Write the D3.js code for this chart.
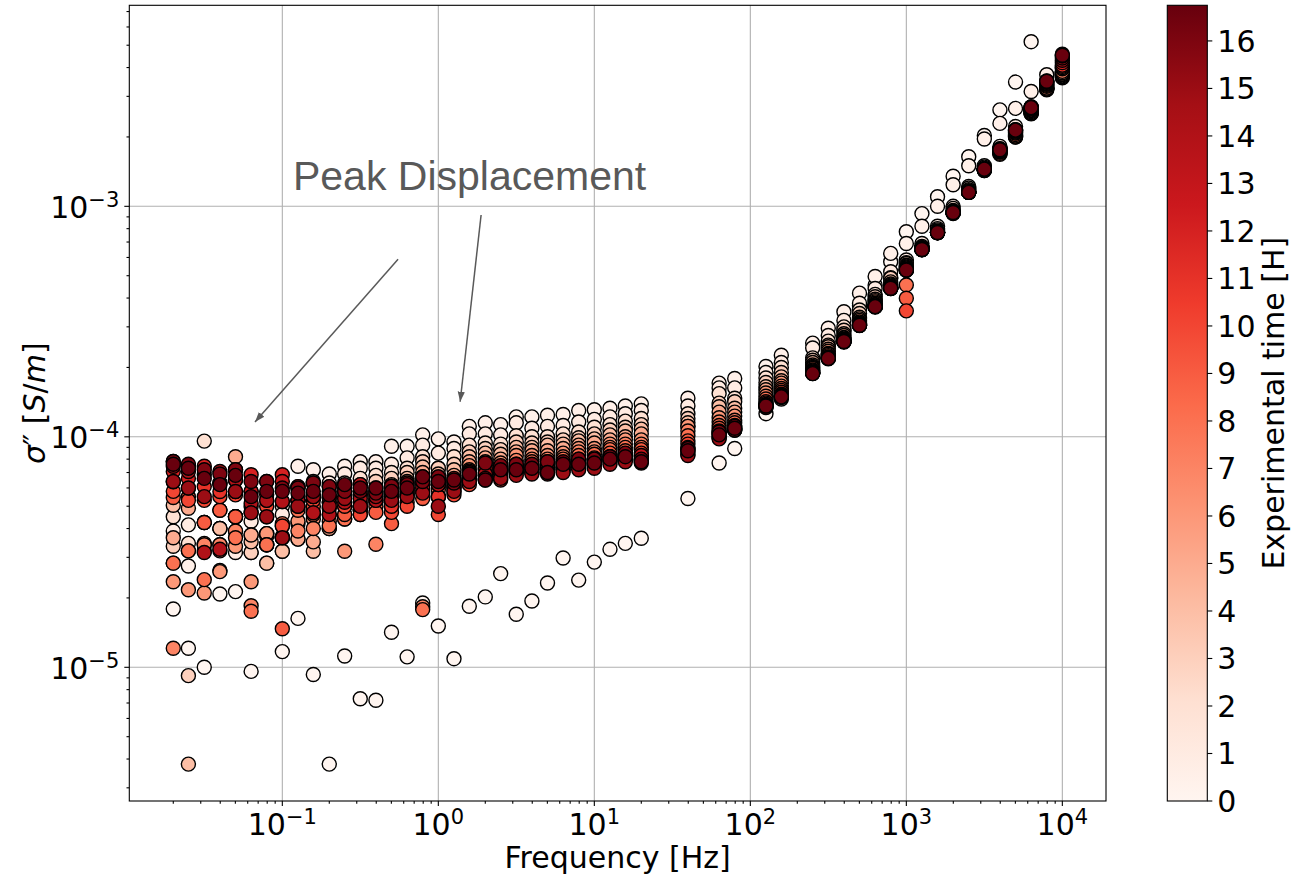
<!DOCTYPE html>
<html>
<head>
<meta charset="utf-8">
<script src="https://cdn.jsdelivr.net/npm/d3@7"></script>
<style>
  body { margin: 0; background: #fff; }
  text { font-family: "DejaVu Sans", sans-serif; }
</style>
</head>
<body>
<div id="chart"></div>
<script>
// frequencies of the sweep [Hz]
const freqs = [0.02, 0.025, 0.0316, 0.0398, 0.0501, 0.0631, 0.0794, 0.1, 0.126, 0.158, 0.2, 0.251, 0.316, 0.398, 0.501, 0.631, 0.794,
  1, 1.26, 1.58, 2, 2.51, 3.16, 3.98, 5.01, 6.31, 7.94, 10, 12.6, 15.8, 20,
  39.8, 63.1, 79.4,
  126, 158, 251, 316, 398, 501, 631, 794, 1000, 1259, 1585, 1995, 2512, 3162, 3981, 5012, 6310, 7943, 10000];

// experimental time of each sweep [H]
const times = [0, 0.5, 1, 2, 3, 4, 5, 6, 7, 8, 9, 10, 11, 12, 13, 14, 15, 16, 16.7];

// sigma'' per sweep, in units of 1e-5 S/m (one value per frequency)
const UNIT = 1e-5;
const s00 = [1.79, 1.21, 1.00, 2.08, 2.13, 0.96, 3.70, 1.17, 1.63, 0.93, 0.38, 1.12, 0.73, 0.72, 1.42, 1.11, 1.90,
  1.51, 1.09, 1.84, 2.02, 2.55, 1.70, 1.94, 2.32, 2.98, 2.39, 2.86, 3.25, 3.45, 3.63,
  5.4, 7.7, 8.9,
  12.6, 14.6, 19.4, 22.5, 29.0, 37.0, 45.5, 57.5, 77.6, 93, 110, 135, 164, 203, 262, 346, 518, 325, 361];
const s05 = [2.83, 2.75, 4.25, 4.00, 4.50, 3.15, 3.80, 5.00, 7.45, 7.20, 6.90, 7.45, 7.80, 7.80, 9.10, 9.10, 10.2,
  9.80, 9.50, 11.1, 11.5, 11.3, 12.2, 12.2, 12.4, 12.5, 13.0, 13.1, 13.3, 13.6, 13.9,
  14.7, 17.1, 17.9,
  20.2, 22.6, 25.5, 29.6, 34.9, 42.0, 49.6, 62.5, 69, 82, 100, 124, 150, 196, 229, 266, 315, 372, 380];
const s01 = [3.90, 4.15, 3.40, 4.00, 3.15, 4.30, 3.40, 4.60, 6.00, 6.40, 6.30, 6.90, 7.30, 7.30, 7.60, 8.10, 9.20,
  8.50, 8.90, 10.3, 10.3, 10.2, 11.5, 10.9, 11.1, 11.2, 11.6, 11.9, 12.2, 12.6, 13.0,
  13.6, 16.3, 16.3,
  19.0, 21.0, 24.3, 27.5, 32.0, 38.0, 44.0, 52.0, 58.5, 69, 82, 100, 122, 150, 182, 222, 262, 330, 372];
const s02 = [4.50, 3.45, 9.58, 4.80, 4.50, 3.75, 2.83, 3.19, 4.20, 5.50, 5.80, 6.30, 6.60, 6.80, 7.00, 7.30, 8.20,
  7.30, 8.20, 9.20, 9.40, 9.30, 10.1, 10.0, 10.0, 10.3, 10.5, 11.0, 11.3, 11.7, 12.0,
  12.6, 15.4, 14.7,
  18.0, 20.0, 22.0, 26.0, 30.0, 35.5, 41.5, 49.0, 57.0, 67, 80, 98, 120, 148, 178, 210, 258, 325, 365];
const s03 = [3.35, 0.92, 4.25, 2.63, 3.90, 3.15, 3.80, 3.65, 5.30, 4.70, 5.20, 5.80, 6.20, 6.40, 6.60, 7.00, 7.80,
  7.30, 7.60, 8.60, 8.90, 8.80, 9.50, 9.40, 9.50, 9.70, 9.90, 10.3, 10.7, 11.0, 11.3,
  12.0, 14.0, 14.2,
  17.2, 19.0, 21.5, 25.0, 29.0, 34.3, 40.5, 48.7, 56.5, 66, 79, 96, 118, 146, 176, 206, 255, 320, 368];
const s04 = [5.05, 0.38, 3.45, 4.00, 4.50, 3.50, 2.83, 3.19, 3.60, 3.19, 4.00, 5.00, 5.60, 5.80, 6.20, 6.60, 7.40,
  6.90, 7.20, 8.20, 8.50, 8.40, 9.00, 9.00, 9.20, 9.30, 9.60, 9.80, 10.2, 10.6, 10.8,
  11.5, 13.5, 13.3,
  16.5, 18.2, 21.0, 24.6, 28.0, 33.0, 39.5, 47.0, 55.5, 66, 78, 95, 117, 145, 172, 203, 253, 323, 372];
const s05h = [3.65, 4.90, 3.20, 3.40, 8.20, 3.75, 3.40, 3.70, 3.60, 3.50, 4.00, 4.60, 5.00, 5.40, 5.80, 6.40, 7.00,
  6.50, 6.80, 7.80, 8.10, 8.00, 8.60, 8.70, 8.70, 8.90, 9.20, 9.40, 9.70, 10.0, 10.3,
  11.1, 12.8, 12.8,
  16.0, 17.5, 20.5, 24.0, 27.5, 32.5, 39.0, 46.0, 55.0, 66, 78, 95, 116, 144, 170, 202, 252, 325, 375];
const s06 = [2.35, 2.17, 2.10, 2.60, 3.35, 2.35, 3.80, 4.10, 4.30, 4.40, 4.60, 3.19, 4.80, 5.20, 5.50, 6.00, 6.70,
  6.20, 6.50, 7.50, 7.80, 7.70, 8.30, 8.30, 8.30, 8.50, 8.90, 8.90, 9.30, 9.70, 9.70,
  11.1, 12.1, 12.3,
  15.5, 17.1, 20.2, 23.5, 27.0, 32.0, 38.5, 45.5, 54.5, 66, 77, 94, 115, 143, 168, 200, 253, 323, 380];
const s07 = [1.21, 3.20, 3.40, 3.40, 3.90, 1.85, 3.40, 3.65, 3.90, 4.00, 4.30, 4.40, 4.60, 3.42, 5.20, 5.70, 1.83,
  5.90, 6.20, 7.20, 7.50, 7.40, 7.90, 8.00, 8.00, 8.20, 8.60, 8.60, 9.00, 9.30, 9.30,
  10.6, 11.6, 11.8,
  15.0, 16.6, 20.0, 23.0, 26.8, 31.5, 38.0, 45.0, 54.0, 66, 77, 94, 115, 143, 170, 200, 255, 326, 385];
const s08 = [2.83, 3.20, 2.40, 3.20, 3.65, 1.75, 3.40, 4.20, 4.80, 4.60, 4.10, 4.40, 4.80, 5.00, 5.00, 5.50, 1.78,
  5.50, 6.00, 7.00, 7.20, 7.10, 7.60, 7.80, 7.80, 8.00, 8.30, 8.40, 8.80, 9.00, 9.00,
  10.1, 11.2, 11.5,
  14.6, 16.2, 19.8, 22.8, 26.5, 31.0, 37.5, 44.5, 45.6, 65.5, 77, 93, 115, 144, 172, 202, 258, 332, 395];
const s09 = [5.45, 5.50, 4.25, 4.80, 4.50, 4.70, 4.50, 1.47, 5.00, 5.00, 4.90, 4.60, 5.00, 4.70, 4.20, 5.20, 5.40,
  5.50, 5.80, 6.60, 6.80, 6.70, 7.30, 7.40, 7.50, 7.70, 8.00, 8.10, 8.50, 8.70, 8.80,
  9.6, 10.9, 11.2,
  14.2, 15.9, 19.5, 22.5, 26.3, 31.0, 37.2, 44.3, 39.9, 65.5, 77, 94, 115, 144, 173, 205, 260, 335, 400];
const s10 = [5.80, 5.30, 5.30, 5.50, 5.60, 5.00, 5.00, 4.10, 5.30, 5.30, 5.20, 5.00, 4.60, 5.30, 4.70, 5.00, 5.80,
  4.60, 5.60, 6.20, 6.50, 6.50, 7.00, 7.20, 7.20, 7.40, 7.70, 7.80, 8.20, 8.40, 8.50,
  9.3, 10.6, 11.0,
  14.0, 15.6, 19.3, 22.2, 26.1, 30.8, 37.0, 44.2, 35.2, 65.5, 77, 94, 115, 145, 174, 208, 262, 338, 405];
const s11 = [6.38, 6.00, 6.08, 5.79, 5.79, 5.80, 5.30, 5.24, 6.08, 6.30, 5.45, 5.50, 5.20, 5.60, 5.00, 5.60, 6.20,
  5.50, 6.00, 6.50, 6.80, 6.90, 7.10, 7.00, 7.10, 7.20, 7.50, 7.60, 7.90, 8.10, 8.20,
  9.0, 10.4, 10.9,
  13.8, 15.3, 19.1, 22.1, 26.0, 30.6, 36.8, 44.1, 53.5, 65, 77, 94, 115, 145, 175, 210, 265, 340, 410];
const s12 = [7.07, 6.60, 7.45, 6.30, 6.50, 6.85, 6.40, 6.85, 5.30, 5.50, 6.08, 5.80, 5.60, 5.80, 5.70, 5.90, 6.40,
  6.20, 6.40, 6.80, 7.00, 7.10, 7.30, 7.20, 7.40, 7.40, 7.70, 7.80, 8.00, 8.20, 8.00,
  8.8, 10.3, 10.8,
  13.7, 15.1, 19.0, 22.0, 25.9, 30.5, 36.7, 44.1, 53.0, 65, 77, 94, 115, 145, 175, 212, 266, 342, 420];
const s13 = [7.45, 7.50, 6.85, 7.07, 7.20, 5.80, 5.60, 6.40, 6.08, 5.50, 5.45, 6.00, 6.20, 6.00, 6.10, 6.30, 6.70,
  6.70, 6.60, 7.10, 7.30, 7.30, 7.40, 7.50, 7.60, 7.70, 7.90, 8.00, 8.20, 8.40, 8.30,
  8.6, 10.0, 10.7,
  13.6, 15.0, 18.9, 21.9, 25.9, 30.5, 36.7, 44.0, 52.9, 65, 77, 94, 115, 145, 176, 213, 268, 345, 430];
const s14 = [7.82, 7.07, 3.15, 3.25, 6.50, 5.15, 5.30, 5.24, 5.30, 4.68, 4.60, 5.20, 5.40, 5.30, 5.50, 5.80, 6.00,
  6.20, 6.10, 6.70, 6.90, 7.00, 7.10, 7.00, 7.00, 7.20, 7.40, 7.50, 7.80, 8.00, 7.90,
  8.4, 9.9, 10.7,
  13.5, 14.9, 18.9, 21.9, 25.9, 30.5, 36.7, 44.1, 52.9, 65, 77, 94, 115, 145, 176, 214, 269, 347, 440];
const s15 = [6.40, 6.00, 5.50, 6.30, 5.79, 4.68, 4.50, 3.65, 5.00, 5.50, 5.00, 5.40, 5.00, 5.50, 5.30, 5.50, 5.70,
  5.00, 5.80, 6.40, 6.60, 6.60, 6.80, 6.90, 6.90, 7.00, 7.20, 7.30, 7.60, 7.80, 7.70,
  8.3, 9.8, 10.7,
  13.4, 14.8, 18.8, 21.8, 25.8, 30.4, 36.6, 44.0, 52.8, 64.8, 76.8, 93.5, 115, 145, 177, 215, 270, 348, 449];
const s16 = [7.82, 7.60, 7.20, 6.90, 7.20, 6.40, 6.40, 6.00, 6.00, 6.30, 6.08, 5.80, 5.80, 5.70, 6.10, 6.20, 6.40,
  6.70, 6.30, 7.00, 7.70, 7.50, 7.60, 7.60, 7.80, 7.80, 8.00, 8.00, 8.20, 8.50, 8.00,
  8.9, 10.5, 11.1,
  13.6, 15.0, 18.9, 22.0, 26.0, 30.6, 36.8, 44.2, 53.0, 65.2, 77.2, 94.2, 115.5, 145.5, 177, 215, 270, 350, 457];
const s17 = [7.60, 7.30, 6.60, 6.20, 6.80, 5.50, 5.80, 5.80, 5.70, 5.80, 5.60, 6.20, 6.00, 6.00, 5.80, 6.00, 6.70,
  6.40, 6.50, 6.90, 6.50, 7.20, 7.20, 7.30, 7.00, 7.60, 7.60, 7.70, 8.00, 8.20, 7.80,
  8.7, 10.2, 10.9,
  13.6, 14.9, 18.8, 21.9, 25.9, 30.5, 36.7, 44.1, 52.9, 65, 77, 94, 115, 145, 176, 214, 268, 349, 452];
const sigmaRows = [s00, s05, s01, s02, s03, s04, s05h, s06, s07, s08, s09, s10, s11, s12, s13, s14, s15, s16, s17];

// ticks
const xTickExps = [-1, 0, 1, 2, 3, 4];
const yTickExps = [-5, -4, -3];
const cbarTicks = d3.range(0, 17);
const tMax = 16.75;

// annotation (data coordinates)
const annLabel = {f: 0.117, v: 1.18e-3, text: "Peak Displacement"};
const annArrows = [
  {f0: 0.552, v0: 5.9e-4, f1: 0.0668, v1: 1.16e-4},
  {f0: 1.88, v0: 9.17e-4, f1: 1.38, v1: 1.42e-4}
];

// matplotlib "Reds"
const reds9 = ["#fff5f0", "#fee0d2", "#fcbba1", "#fc9272", "#fb6a4a", "#ef3b2c", "#cb181d", "#a50f15", "#67000d"];

const W = 1292, H = 876;
const plot = {left: 129.3, right: 1106, top: 5.3, bottom: 801};
const cb = {left: 1167.3, right: 1207.3};

const svg = d3.select("#chart").append("svg")
  .attr("width", W).attr("height", H);

const x = d3.scaleLog().domain([0.01045, 19050]).range([plot.left, plot.right]);
const y = d3.scaleLog().domain([2.63e-6, 7.45e-3]).range([plot.bottom, plot.top]);
const color = d3.scaleLinear()
  .domain(reds9.map((c, i) => i * tMax / 8))
  .range(reds9)
  .interpolate(d3.interpolateRgb);

//grid lines
const grid = svg.append("g");
xTickExps.forEach(e => {
  grid.append("line")
    .attr("x1", x(10 ** e)).attr("x2", x(10 ** e))
    .attr("y1", plot.top).attr("y2", plot.bottom)
    .attr("stroke", "#b0b0b0").attr("stroke-width", 1.1);
});
yTickExps.forEach(e => {
  grid.append("line")
    .attr("y1", y(10 ** e)).attr("y2", y(10 ** e))
    .attr("x1", plot.left).attr("x2", plot.right)
    .attr("stroke", "#b0b0b0").attr("stroke-width", 1.1);
});

svg.append("clipPath").attr("id", "clip")
  .append("rect")
  .attr("x", plot.left).attr("y", plot.top)
  .attr("width", plot.right - plot.left).attr("height", plot.bottom - plot.top);

// scatter points, drawn in time order so later sweeps sit on top
const points = [];
times.forEach((t, i) => {
  freqs.forEach((f, j) => points.push({f: f, v: sigmaRows[i][j] * UNIT, t: t}));
});

svg.append("g").attr("clip-path", "url(#clip)")
  .selectAll("circle")
  .data(points)
  .join("circle")
  .attr("cx", d => x(d.f))
  .attr("cy", d => y(d.v))
  .attr("r", 7)
  .attr("fill", d => color(d.t))
  .attr("stroke", "#000")
  .attr("stroke-width", 1.4);

// frame
svg.append("rect")
  .attr("x", plot.left).attr("y", plot.top)
  .attr("width", plot.right - plot.left).attr("height", plot.bottom - plot.top)
  .attr("fill", "none").attr("stroke", "#000").attr("stroke-width", 1.1);

// ticks
const ticks = svg.append("g").attr("stroke", "#000").attr("stroke-width", 1.1);
for (let e = -2; e <= 4; e++) {
  for (let k = 1; k <= 9; k++) {
    const v = k * 10 ** e;
    if (v < x.domain()[0] || v > x.domain()[1]) continue;
    const len = k === 1 ? 5 : 2.8;
    ticks.append("line").attr("x1", x(v)).attr("x2", x(v))
      .attr("y1", plot.bottom).attr("y2", plot.bottom + len);
  }
}
for (let e = -6; e <= -3; e++) {
  for (let k = 1; k <= 9; k++) {
    const v = k * 10 ** e;
    if (v < y.domain()[0] || v > y.domain()[1]) continue;
    const len = k === 1 ? 5 : 2.8;
    ticks.append("line").attr("y1", y(v)).attr("y2", y(v))
      .attr("x1", plot.left).attr("x2", plot.left - len);
  }
}

function powText(sel, e) {
  sel.append("tspan").text("10");
  sel.append("tspan").attr("dy", -11).attr("font-size", 21)
    .text(e < 0 ? "\u2212" + (-e) : String(e));
}

xTickExps.forEach(e => {
  const t = svg.append("text")
    .attr("x", x(10 ** e)).attr("y", 835)
    .attr("text-anchor", "middle")
    .style("font-size", "30px");
  powText(t, e);
});
yTickExps.forEach(e => {
  const t = svg.append("text")
    .attr("x", plot.left - 10).attr("y", y(10 ** e) + 11.5)
    .attr("text-anchor", "end")
    .style("font-size", "30px");
  powText(t, e);
});

// axis labels
svg.append("text")
  .attr("x", (plot.left + plot.right) / 2).attr("y", 868)
  .attr("text-anchor", "middle")
  .style("font-size", "30px")
  .text("Frequency [Hz]");

const yl = svg.append("text")
  .attr("transform", `translate(45,${(plot.top + plot.bottom) / 2}) rotate(-90)`)
  .attr("text-anchor", "middle")
  .style("font-size", "30px");
yl.append("tspan").attr("font-style", "italic").text("\u03c3");
yl.append("tspan").text("\u2033 [");
yl.append("tspan").attr("font-style", "italic").text("S");
yl.append("tspan").text("/");
yl.append("tspan").attr("font-style", "italic").text("m");
yl.append("tspan").text("]");

// annotation
const defs = svg.append("defs");
defs.append("marker")
  .attr("id", "head")
  .attr("markerUnits", "userSpaceOnUse")
  .attr("viewBox", "0 -5 10 10")
  .attr("refX", 10).attr("refY", 0)
  .attr("markerWidth", 10).attr("markerHeight", 10)
  .attr("orient", "auto")
  .append("path")
  .attr("d", "M0,-3.6L10,0L0,3.6Z")
  .attr("fill", "#595959");

annArrows.forEach(a => {
  svg.append("line")
    .attr("x1", x(a.f0)).attr("y1", y(a.v0))
    .attr("x2", x(a.f1)).attr("y2", y(a.v1))
    .attr("stroke", "#595959").attr("stroke-width", 1.5)
    .attr("marker-end", "url(#head)");
});

svg.append("text")
  .attr("x", x(annLabel.f)).attr("y", y(annLabel.v))
  .style("font-family", "'Liberation Sans', Arial, sans-serif")
  .style("font-size", "41px")
  .attr("fill", "#595959")
  .text(annLabel.text);

// colorbar
const cy = d3.scaleLinear().domain([0, tMax]).range([plot.bottom, plot.top]);
const grad = defs.append("linearGradient")
  .attr("id", "cbgrad")
  .attr("x1", 0).attr("y1", 1).attr("x2", 0).attr("y2", 0);
reds9.forEach((c, i) => {
  grad.append("stop").attr("offset", i / 8).attr("stop-color", c);
});
svg.append("rect")
  .attr("x", cb.left).attr("y", plot.top)
  .attr("width", cb.right - cb.left).attr("height", plot.bottom - plot.top)
  .attr("fill", "url(#cbgrad)")
  .attr("stroke", "#000").attr("stroke-width", 1.1);

cbarTicks.forEach(v => {
  svg.append("line")
    .attr("x1", cb.right).attr("x2", cb.right + 5)
    .attr("y1", cy(v)).attr("y2", cy(v))
    .attr("stroke", "#000").attr("stroke-width", 1.1);
  svg.append("text")
    .attr("x", cb.right + 10).attr("y", cy(v) + 11)
    .style("font-size", "30px")
    .text(v);
});

svg.append("text")
  .attr("transform", `translate(1284,${(plot.top + plot.bottom) / 2}) rotate(-90)`)
  .attr("text-anchor", "middle")
  .style("font-size", "30px")
  .text("Experimental time [H]");
</script>
</body>
</html>
